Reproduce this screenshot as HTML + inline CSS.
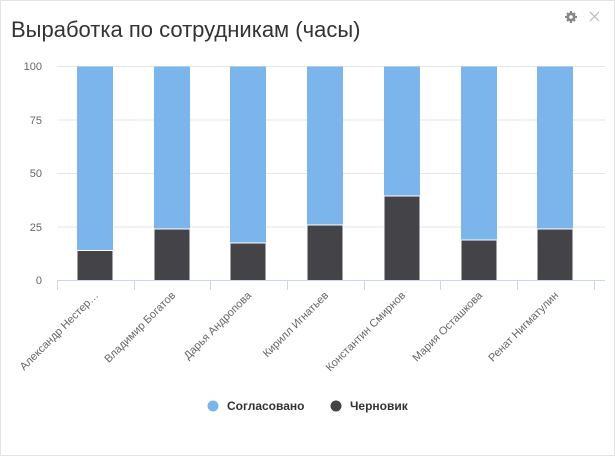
<!DOCTYPE html>
<html><head><meta charset="utf-8"><style>
html,body{margin:0;padding:0;background:#fff;}
svg{display:block;font-family:"Segoe UI","Liberation Sans","DejaVu Sans",sans-serif;}
</style></head><body>
<svg width="615" height="456" viewBox="0 0 615 456">
<rect x="0.5" y="0.5" width="614" height="455" fill="#fff" stroke="#e3e3e3"/>
<text x="11" y="37" font-size="22" fill="#333" font-family="Liberation Sans, sans-serif" font-weight="300">Выработка по сотрудникам (часы)</text>
<g fill="#888"><circle cx="571" cy="17" r="4.5"/>
<g stroke="#888" stroke-width="2.2"><line x1="571" y1="11" x2="571" y2="23"/><line x1="565" y1="17" x2="577" y2="17"/><line x1="567" y1="13" x2="575" y2="21"/><line x1="575" y1="13" x2="567" y2="21"/></g><circle cx="571" cy="17" r="1.8" fill="#fff"/></g>
<g stroke="#bbb" stroke-width="1.2"><line x1="590" y1="12" x2="599" y2="21"/><line x1="599" y1="12" x2="590" y2="21"/></g>
<g stroke="#e6e6e6" stroke-width="1">
<line x1="57" y1="66.5" x2="605" y2="66.5"/><line x1="57" y1="120" x2="605" y2="120"/><line x1="57" y1="173.5" x2="605" y2="173.5"/><line x1="57" y1="227" x2="605" y2="227"/>
</g>
<g font-size="11" fill="#666" text-anchor="end">
<text x="42" y="70">100</text><text x="42" y="124">75</text><text x="42" y="177">50</text><text x="42" y="231">25</text><text x="42" y="284">0</text>
</g>
<g fill="#7cb5ec">
<rect x="77" y="66.5" width="36" height="214"/><rect x="154" y="66.5" width="36" height="214"/><rect x="230" y="66.5" width="36" height="214"/><rect x="307" y="66.5" width="36" height="214"/><rect x="384" y="66.5" width="36" height="214"/><rect x="461" y="66.5" width="36" height="214"/><rect x="537" y="66.5" width="36" height="214"/>
</g>
<g fill="#434348" stroke="#fff" stroke-width="1">
<rect x="77" y="250.5" width="36" height="30"/><rect x="154" y="229" width="36" height="51.5"/><rect x="230" y="243" width="36" height="37.5"/><rect x="307" y="225" width="36" height="55.5"/><rect x="384" y="196" width="36" height="84.5"/><rect x="461" y="240" width="36" height="40.5"/><rect x="537" y="229" width="36" height="51.5"/>
</g>
<g stroke="#ccd6eb" stroke-width="1">
<line x1="57" y1="280.5" x2="605" y2="280.5"/>
<line x1="57.5" y1="280" x2="57.5" y2="290"/><line x1="134.5" y1="280" x2="134.5" y2="290"/><line x1="210.5" y1="280" x2="210.5" y2="290"/><line x1="287.5" y1="280" x2="287.5" y2="290"/><line x1="364.5" y1="280" x2="364.5" y2="290"/><line x1="440.5" y1="280" x2="440.5" y2="290"/><line x1="517.5" y1="280" x2="517.5" y2="290"/><line x1="594.5" y1="280" x2="594.5" y2="290"/>
</g>
<g font-size="11" fill="#666" text-anchor="end">
<text transform="translate(99,296) rotate(-45)">Александр Нестер…</text>
<text transform="translate(176,296) rotate(-45)">Владимир Богатов</text>
<text transform="translate(252,296) rotate(-45)">Дарья Андропова</text>
<text transform="translate(329,296) rotate(-45)">Кирилл Игнатьев</text>
<text transform="translate(406,296) rotate(-45)">Константин Смирнов</text>
<text transform="translate(483,296) rotate(-45)">Мария Осташкова</text>
<text transform="translate(559,296) rotate(-45)">Ренат Нигматулин</text>
</g>
<circle cx="213" cy="406" r="5.5" fill="#7cb5ec"/>
<text x="227" y="410" font-size="12" font-weight="bold" fill="#333">Согласовано</text>
<circle cx="336" cy="406" r="5.5" fill="#434348"/>
<text x="350" y="410" font-size="12" font-weight="bold" fill="#333">Черновик</text>
</svg>
</body></html>
